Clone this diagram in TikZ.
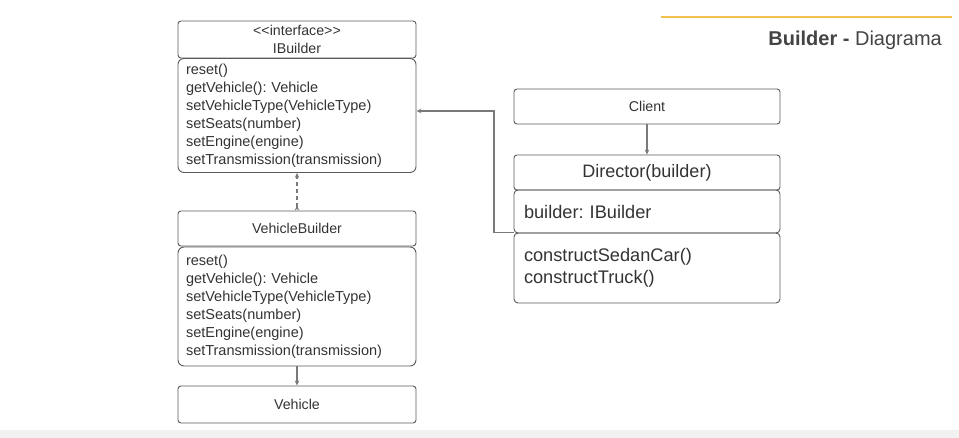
\documentclass[tikz,border=0pt]{standalone}
\usepackage{fontspec}
\setmainfont{Liberation Sans}[Ligatures=NoCommon]
\frenchspacing
\usetikzlibrary{arrows.meta}
\definecolor{boxline}{HTML}{5A5A5A}
\definecolor{connline}{HTML}{7A7A7A}
\definecolor{txt}{HTML}{333333}
\definecolor{titletxt}{HTML}{444444}
\definecolor{yellowline}{HTML}{F2C14E}
\definecolor{band}{HTML}{F1F1F1}
\tikzset{
  boxbase/.style={draw=boxline, line width=0.9pt, text=txt, inner sep=0pt},
  headbox/.style={boxbase, rounded corners=3pt, minimum width=238pt, align=center, font=\fontsize{14.2}{18}\selectfont},
  bodybox/.style={boxbase, rounded corners=6pt, minimum width=238pt, text width=222pt, align=left, font=\fontsize{14.5}{18}\selectfont},
  dirbox/.style={boxbase, rounded corners=3pt, minimum width=266pt, align=center, font=\fontsize{18}{22}\selectfont},
  dirtxt/.style={boxbase, rounded corners=4pt, minimum width=266pt, text width=246pt, align=left, font=\fontsize{18.2}{22}\selectfont},
  conn/.style={draw=connline, line width=1.2pt, -{Stealth[length=5pt,width=4.5pt]}},
}
\begin{document}
\begin{tikzpicture}[x=1pt,y=-1pt]
\useasboundingbox (0,0) rectangle (959,438);
\fill[band] (0,430) rectangle (959,438);
% title
\draw[yellowline, line width=2pt] (661,17) -- (952,17);
\node[anchor=east, text=titletxt, font=\fontsize{20}{24}\selectfont, inner sep=0pt] (title) at (942,40) {\textbf{Builder -} Diagrama};
% IBuilder
\node[headbox, minimum height=37pt] (ihead) at (297,39.5) {{<}{<}interface{>}{>}\\IBuilder};
\node[bodybox, minimum height=114pt] (ibody) at (297,115.5) {reset()\\getVehicle(): Vehicle\\setVehicleType(VehicleType)\\setSeats(number)\\setEngine(engine)\\setTransmission(transmission)};
% VehicleBuilder
\node[headbox, minimum height=35pt] (vbhead) at (297,228.5) {VehicleBuilder};
\node[bodybox, minimum height=119pt] (vbbody) at (297,306.5) {reset()\\getVehicle(): Vehicle\\setVehicleType(VehicleType)\\setSeats(number)\\setEngine(engine)\\setTransmission(transmission)};
% Vehicle
\node[headbox, minimum height=37pt] (vehicle) at (297,404.5) {Vehicle};
% Client
\node[dirbox, minimum height=35pt, font=\fontsize{14.2}{18}\selectfont] (client) at (647,106.5) {Client};
% Director
\node[dirbox, minimum height=35pt] (dhead) at (647,172.5) {Director(builder)};
\node[dirtxt, minimum height=43pt] (dfield) at (647,211.5) {builder: IBuilder};
\node[dirtxt, minimum height=70pt] (dmeth) at (647,268) {constructSedanCar()\\constructTruck()};
% connectors
\draw[conn, dashed, dash pattern=on 4pt off 3pt, {Stealth[length=5pt,width=4.5pt,reversed]}-{Stealth[length=5pt,width=4.5pt]}] (vbhead.north) -- (ibody.south);
\draw[conn] (vbbody.south) -- (vehicle.north);
\draw[conn] (client.south) -- (dhead.north);
\coordinate (bend) at (494,111);
\draw[conn] (dmeth.north west) -| (bend) -- (ibody.east |- bend);
\end{tikzpicture}
\end{document}
